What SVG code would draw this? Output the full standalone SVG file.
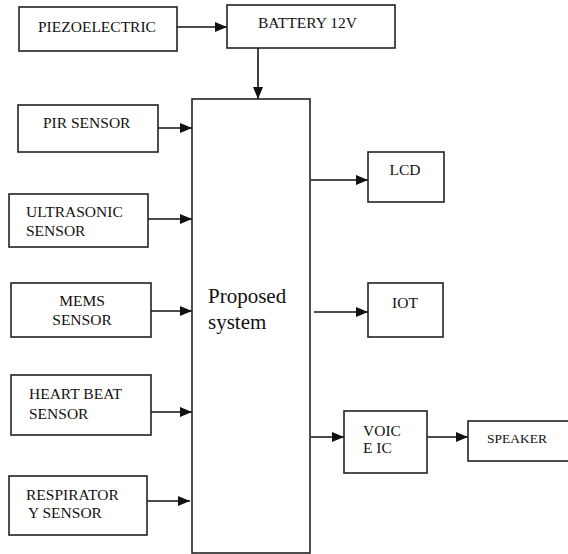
<svg xmlns="http://www.w3.org/2000/svg" width="568" height="554" viewBox="0 0 568 554">
<style>
.box{fill:#fff;stroke:#222;stroke-width:1.6}
.t{font-family:'Liberation Serif','Times New Roman',Times,'DejaVu Serif',serif;font-size:15.5px;fill:#111}
.big{font-family:'Liberation Serif','Times New Roman',Times,'DejaVu Serif',serif;font-size:21px;fill:#111}
.c{stroke:#111;stroke-width:1.6;fill:none;marker-end:url(#ah)}
</style>
<defs>
<marker id="ah" markerUnits="userSpaceOnUse" markerWidth="12" markerHeight="12" viewBox="0 0 12 12" refX="12" refY="6" orient="auto">
<path d="M0,1 L12,6 L0,11 Z" fill="#111"/>
</marker>
</defs>
<rect width="568" height="554" fill="#fff"/>
<g id="connectors">
<line class="c" x1="177" y1="27" x2="227" y2="27"/>
<line class="c" x1="258" y1="48" x2="258" y2="99"/>
<line class="c" x1="158" y1="128" x2="192" y2="128"/>
<line class="c" x1="148" y1="219" x2="192" y2="219"/>
<line class="c" x1="151" y1="311" x2="192" y2="311"/>
<line class="c" x1="151" y1="412" x2="192" y2="412"/>
<line class="c" x1="147" y1="501" x2="190" y2="501"/>
<line class="c" x1="311" y1="180" x2="368" y2="180"/>
<line class="c" x1="314" y1="312" x2="368" y2="312"/>
<line class="c" x1="311" y1="437" x2="344" y2="437"/>
<line class="c" x1="427" y1="437" x2="468" y2="437"/>
</g>
<g id="piezo"><rect class="box" x="19" y="7" width="158" height="44"/><text class="t" x="38" y="32">PIEZOELECTRIC</text></g>
<g id="battery"><rect class="box" x="227" y="5" width="168" height="43"/><text class="t" x="258" y="28">BATTERY 12V</text></g>
<g id="proposed"><rect class="box" x="192" y="99" width="118" height="454"/><text class="big" x="208" y="303">Proposed</text><text class="big" x="208" y="329">system</text></g>
<g id="pir"><rect class="box" x="18" y="105" width="140" height="47"/><text class="t" x="43" y="128">PIR SENSOR</text></g>
<g id="ultrasonic"><rect class="box" x="9" y="194" width="139" height="53"/><text class="t" x="26" y="217">ULTRASONIC</text><text class="t" x="26" y="236">SENSOR</text></g>
<g id="mems"><rect class="box" x="11" y="283" width="140" height="54"/><text class="t" x="82" y="306" text-anchor="middle">MEMS</text><text class="t" x="82" y="325" text-anchor="middle">SENSOR</text></g>
<g id="heartbeat"><rect class="box" x="11" y="375" width="140" height="60"/><text class="t" x="29" y="399">HEART BEAT</text><text class="t" x="29" y="419">SENSOR</text></g>
<g id="respiratory"><rect class="box" x="9" y="476" width="138" height="59"/><text class="t" x="26" y="500">RESPIRATOR</text><text class="t" x="28" y="518">Y SENSOR</text></g>
<g id="lcd"><rect class="box" x="368" y="152" width="76" height="50"/><text class="t" x="405" y="175" text-anchor="middle">LCD</text></g>
<g id="iot"><rect class="box" x="368" y="283" width="75" height="54"/><text class="t" x="405" y="308" text-anchor="middle">IOT</text></g>
<g id="voice"><rect class="box" x="344" y="411" width="83" height="62"/><text class="t" x="363" y="436">VOIC</text><text class="t" x="363" y="453">E IC</text></g>
<g id="speaker"><rect class="box" x="468" y="421" width="102" height="40"/><text class="t" x="487" y="443" style="font-size:13.5px">SPEAKER</text></g>
</svg>
